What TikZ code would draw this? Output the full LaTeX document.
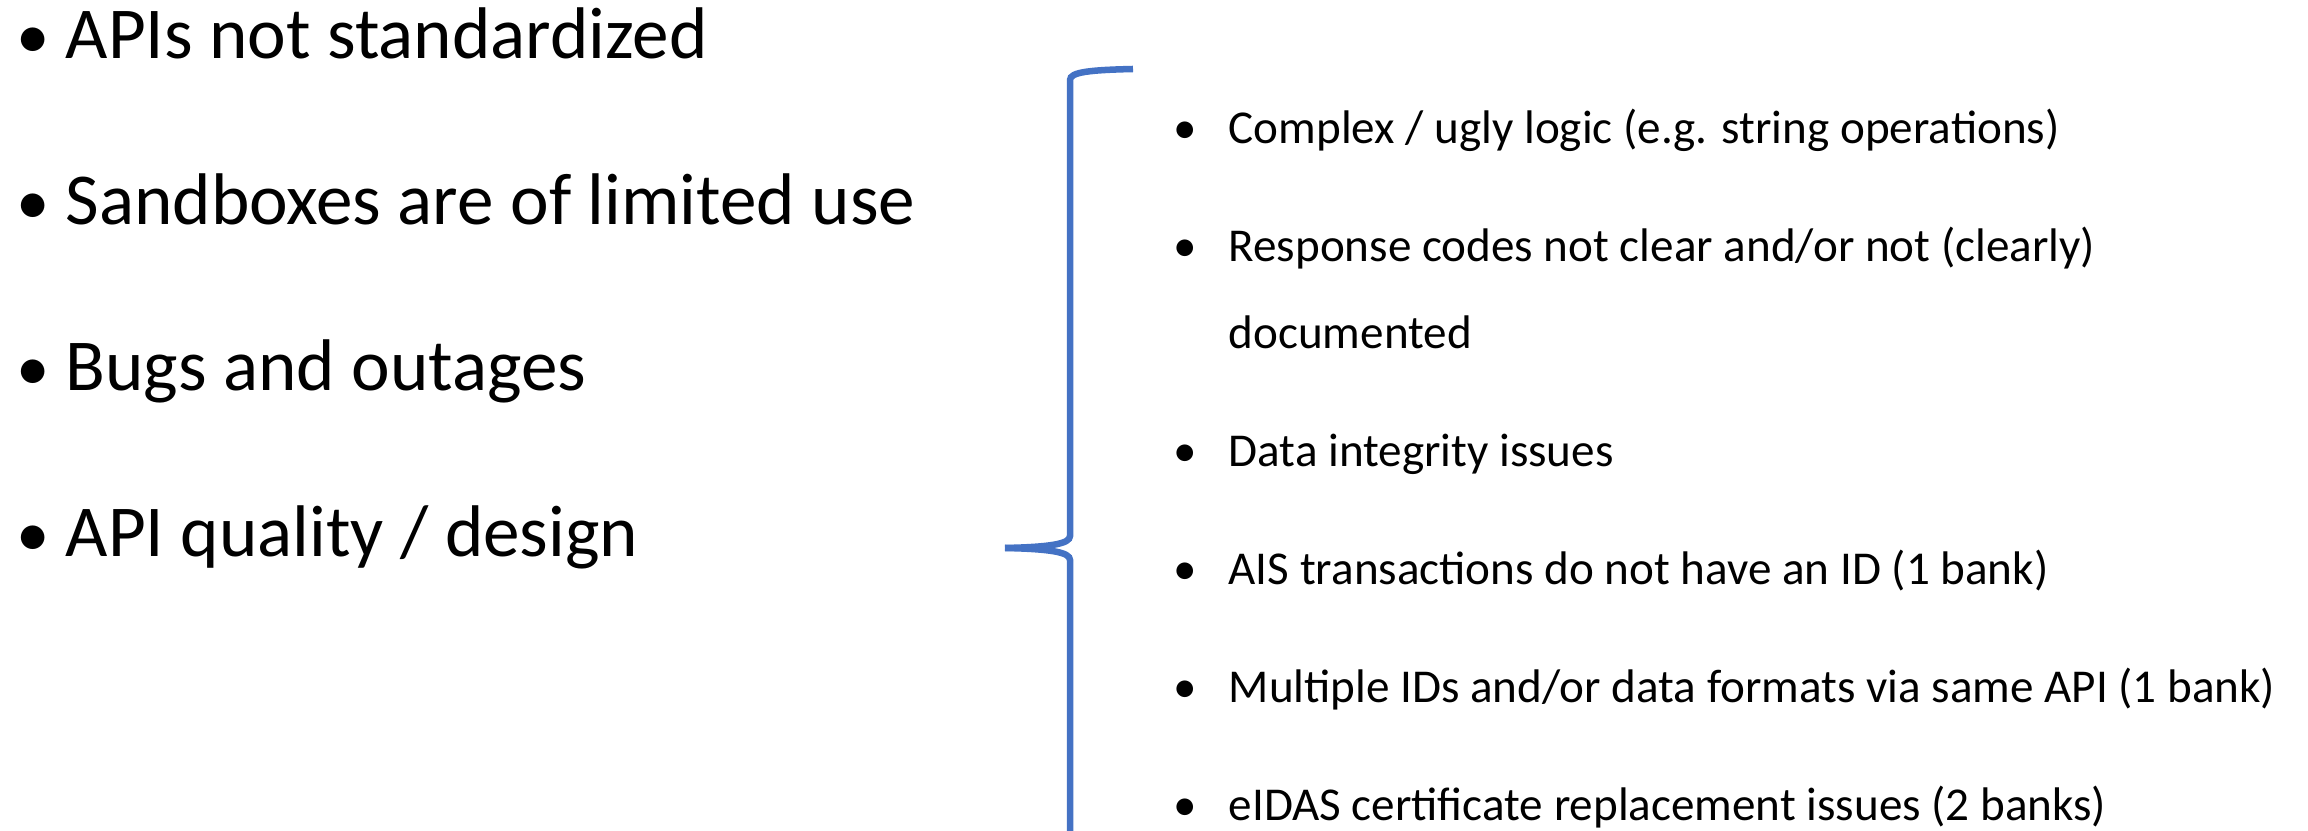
\documentclass[tikz,border=0pt]{standalone}
\usepackage{fontspec}
\setmainfont{Carlito}
\usepackage{tikz}
\usetikzlibrary{calc}
\definecolor{braceblue}{HTML}{4472C4}

\begin{document}
\begin{tikzpicture}[x=0.01cm,y=-0.01cm,
	bigitem/.style={anchor=base west,inner sep=0pt,font=\fontsize{20.8}{24}\selectfont},
	bigdot/.style={anchor=base,inner sep=0pt,font=\fontsize{19}{24}\selectfont},
	smallitem/.style={anchor=base west,inner sep=0pt,font=\fontsize{13.4}{16}\selectfont},
	smalldot/.style={anchor=base,inner sep=0pt,font=\fontsize{13.4}{16}\selectfont},
	brace/.style={draw=braceblue,line width=1.85pt}]
	\useasboundingbox (0,0) rectangle (2308,831);
	% left column
	\node[bigdot] (stdz dot) at (33,59) {•};
	\node[bigitem] (stdz) at (65,59) {APIs not standardized};
	\node[bigdot] (sandbox dot) at (33,225) {•};
	\node[bigitem] (sandbox) at (65,225) {Sandboxes are of limited use};
	\node[bigdot] (bugs dot) at (33,391) {•};
	\node[bigitem] (bugs) at (65,391) {Bugs and outages};
	\node[bigdot] (quality dot) at (33,557) {•};
	\node[bigitem] (quality) at (65,557) {API quality / design};
	% brace
	\draw[brace] (1133,69) .. controls (1090,70) and (1070,72) .. (1070,80) -- (1070,536)
		.. controls (1070,544) and (1050,547) .. (1005,548);
	\draw[brace] (1005,548) .. controls (1050,549) and (1070,552) .. (1070,560) -- (1070,831);
	% right column
	\node[smalldot] (logic dot) at (1185,144) {•};
	\node[smallitem] (logic) at (1228,144) {Complex / ugly logic (e.g. string operations)};
	\node[smalldot] (resp dot) at (1185,262) {•};
	\node[smallitem] (resp) at (1228,262) {Response codes not clear and/or not (clearly)};
	\node[smallitem] (resp cont) at (1228,349) {documented};
	\node[smalldot] (integrity dot) at (1185,467) {•};
	\node[smallitem] (integrity) at (1228,467) {Data integrity issues};
	\node[smalldot] (aisid dot) at (1185,585) {•};
	\node[smallitem] (aisid) at (1228,585) {AIS transactions do not have an ID (1 bank)};
	\node[smalldot] (multiid dot) at (1185,703) {•};
	\node[smallitem] (multiid) at (1228,703) {Multiple IDs and/or data formats via same API (1 bank)};
	\node[smalldot] (eidas dot) at (1185,821) {•};
	\node[smallitem] (eidas) at (1228,821) {eIDAS certificate replacement issues (2 banks)};
\end{tikzpicture}
\end{document}
